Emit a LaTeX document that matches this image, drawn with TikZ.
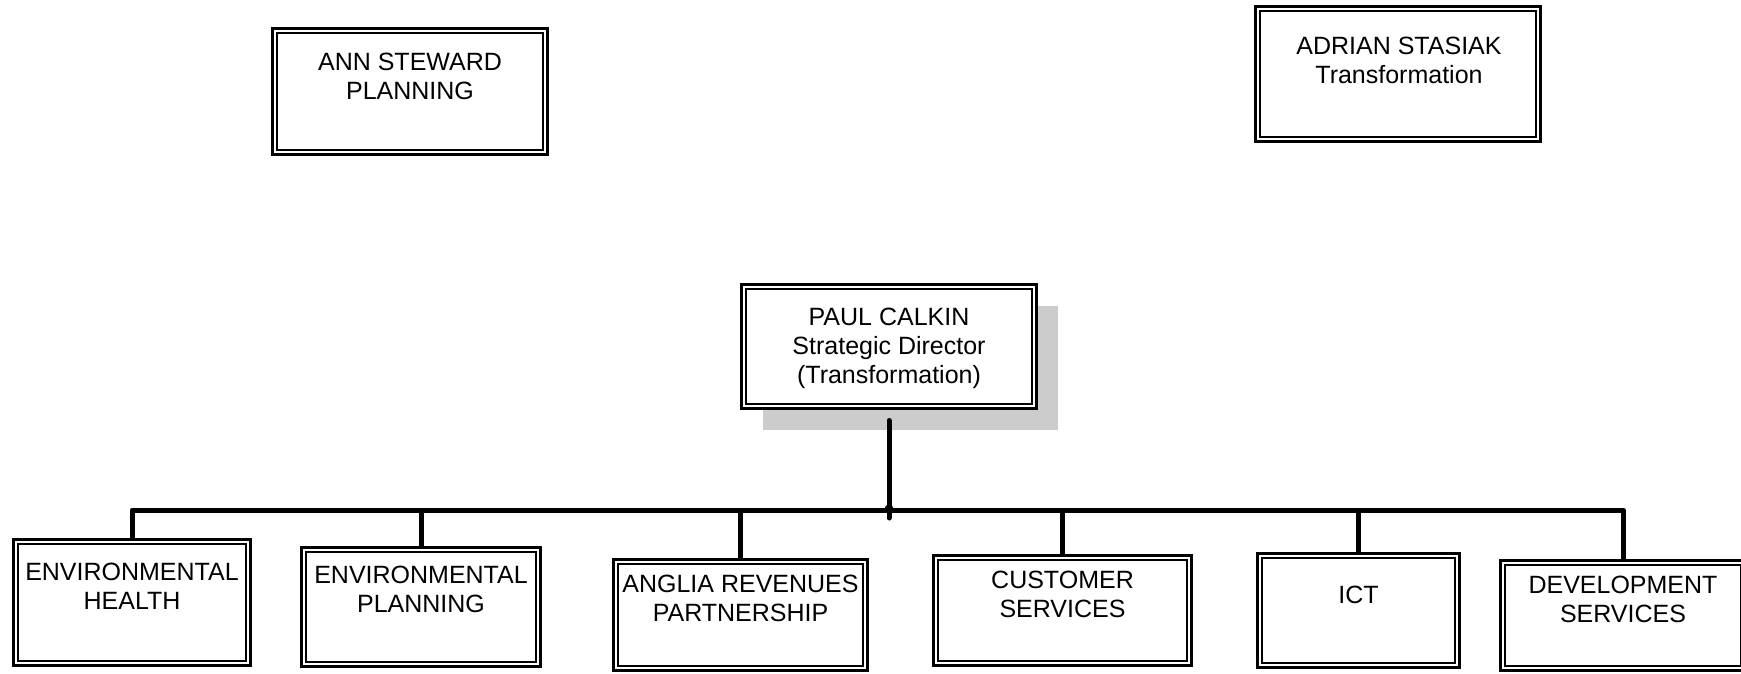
\documentclass[tikz,border=0pt]{standalone}
\usepackage{fontspec}
\setmainfont{Liberation Sans}
\usetikzlibrary{shadows}
\newcommand{\innerframe}[1]{%
  \draw[innerbox] ([xshift=4.4pt,yshift=-4.4pt]#1.north west) rectangle ([xshift=-4.4pt,yshift=4.4pt]#1.south east);}
\begin{document}
\begin{tikzpicture}[x=1pt,y=-1pt,
  box/.style={draw=black, line width=3.3pt, rectangle, inner sep=0pt, outer sep=0pt},
  innerbox/.style={draw=black, line width=1.6pt},
  txt/.style={anchor=base, inner sep=0pt, font=\fontsize{25}{29}\selectfont},
  conn/.style={draw=black, line width=5pt, line join=round}]
\clip (0,0) rectangle (1741,673);
\fill[white] (0,0) rectangle (1741,673);
% boxes
\node[box, minimum width=275pt, minimum height=126pt] (ann) at (410,91.5) {};
\node[box, minimum width=285pt, minimum height=135pt] (adr) at (1398,74) {};
\node[box, fill=white, minimum width=295pt, minimum height=124pt,
  drop shadow={shadow xshift=21pt, shadow yshift=-21pt, fill=black!20, opacity=1}] (paul) at (889,346.5) {};
\node[box, minimum width=237pt, minimum height=126pt] (eh) at (132,602.5) {};
\node[box, minimum width=239pt, minimum height=119pt] (ep) at (421,607) {};
\node[box, minimum width=254pt, minimum height=111pt] (arp) at (740.5,615) {};
\node[box, minimum width=258pt, minimum height=110pt] (cs) at (1062.5,610.5) {};
\node[box, minimum width=202pt, minimum height=114pt] (ict) at (1358.5,610.5) {};
\node[box, minimum width=245pt, minimum height=110pt] (dev) at (1623,615.5) {};
\innerframe{ann}
\innerframe{adr}
\innerframe{paul}
\innerframe{eh}
\innerframe{ep}
\innerframe{arp}
\innerframe{cs}
\innerframe{ict}
\innerframe{dev}
% texts
\node[txt] (annt) at (410,70) {\begin{tabular}[t]{@{}c@{}}ANN STEWARD\\PLANNING\end{tabular}};
\node[txt] (adrt) at (1399,54) {\begin{tabular}[t]{@{}c@{}}ADRIAN STASIAK\\Transformation\end{tabular}};
\node[txt] (pault) at (889,325) {\begin{tabular}[t]{@{}c@{}}PAUL CALKIN\\Strategic Director\\(Transformation)\end{tabular}};
\node[txt] (eht) at (132,580) {\begin{tabular}[t]{@{}c@{}}ENVIRONMENTAL\\HEALTH\end{tabular}};
\node[txt] (ept) at (421,583) {\begin{tabular}[t]{@{}c@{}}ENVIRONMENTAL\\PLANNING\end{tabular}};
\node[txt] (arpt) at (740.5,592) {\begin{tabular}[t]{@{}c@{}}ANGLIA REVENUES\\PARTNERSHIP\end{tabular}};
\node[txt] (cst) at (1062.5,588) {\begin{tabular}[t]{@{}c@{}}CUSTOMER\\SERVICES\end{tabular}};
\node[txt] (ictt) at (1358.5,603) {ICT};
\node[txt] (devt) at (1623,593) {\begin{tabular}[t]{@{}c@{}}DEVELOPMENT\\SERVICES\end{tabular}};
% connectors
\coordinate (busR) at (1623,510);
\coordinate (pj) at (889,518);
\draw[conn] (eh.north) |- (busR) -- (dev.north);
\draw[conn] (ep.north) -- (ep.north |- busR);
\draw[conn] (arp.north) -- (arp.north |- busR);
\draw[conn] (cs.north) -- (cs.north |- busR);
\draw[conn] (ict.north) -- (ict.north |- busR);
\draw[conn, line cap=round] ([yshift=-12pt]paul.south) -- (pj);
\fill (889,509) circle (4.5pt);
\end{tikzpicture}
\end{document}
